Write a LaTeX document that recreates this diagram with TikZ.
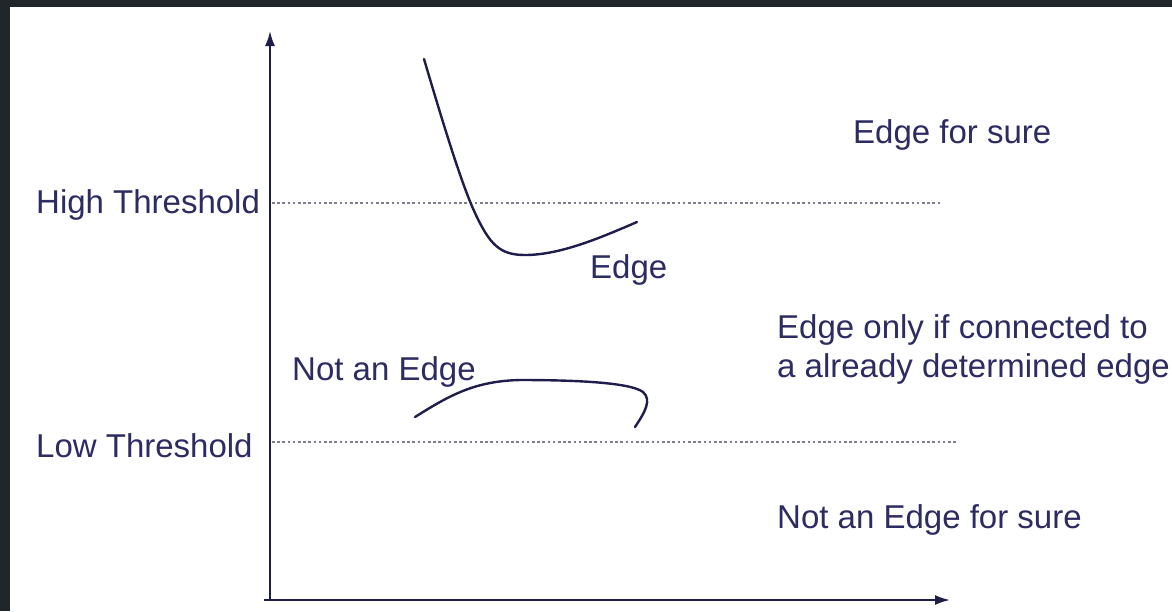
\documentclass[tikz,border=0pt]{standalone}
\usepackage{fontspec}
\setmainfont{Liberation Sans}
\usetikzlibrary{arrows.meta}
\definecolor{ink}{HTML}{2C2B62}
\definecolor{axisc}{HTML}{1E1D4C}
\definecolor{dotc}{HTML}{7E7E90}
\definecolor{frame}{HTML}{202629}
\tikzset{
  lbl/.style={anchor=base west, inner sep=0pt, text=ink, font=\fontsize{33}{32}\selectfont},
  axisline/.style={draw=axisc, line width=2pt, -{Latex[length=15pt,width=10pt]}},
  level/.style={draw=dotc, line width=1.5pt, dash pattern=on 2.6pt off 2.6pt},
  profile/.style={draw=axisc, line width=2.4pt, line cap=round}
}
\begin{document}
\begin{tikzpicture}[x=1pt,y=-1pt]
  \useasboundingbox (0,0) rectangle (1172,611);
  \fill[white] (0,0) rectangle (1172,611);
  % dark window edge along the top and left
  \fill[frame] (0,0) rectangle (1172,7);
  \fill[frame] (0,0) rectangle (10,611);

  % axes
  \coordinate (O) at (270,600);
  \coordinate (ytip) at (270,31);
  \coordinate (xtip) at (950,600);
  \coordinate (xstart) at (264,600);
  \draw[axisline] (O) -- (ytip);
  \draw[axisline] (xstart) -- (xtip);

  % threshold levels
  \coordinate (hiL) at (272,203);
  \coordinate (hiR) at (940,203);
  \coordinate (loL) at (272,442);
  \coordinate (loR) at (957,442);
  \draw[level] (hiL) -- (hiR);
  \draw[level] (loL) -- (loR);

  % labels
  \node[lbl] (high) at (36,213) {High Threshold};
  \node[lbl] (low) at (36,457) {Low Threshold};
  \node[lbl] (sure) at (853,143) {Edge for sure};
  \node[lbl] (edge) at (590,278) {Edge};
  \node[lbl] (notedge) at (292,380) {Not an Edge};
  \node[lbl] (weak1) at (777,338) {Edge only if connected to};
  \node[lbl] (weak2) at (777,377) {a already determined edge};
  \node[lbl] (notsure) at (777,528) {Not an Edge for sure};

  % gradient profile that crosses the high threshold
  \coordinate (e1) at (424,59);
  \coordinate (e2) at (637,222);
  \draw[profile] (e1) .. controls (445,130) and (462,185) .. (475,213)
    .. controls (490,245) and (500,255) .. (525,255)
    .. controls (560,255) and (600,238) .. (e2);

  % profile lying between the thresholds
  \coordinate (n1) at (415,417);
  \coordinate (n2) at (635,427);
  \draw[profile] (n1) .. controls (450,395) and (475,381) .. (520,380)
    .. controls (570,380) and (630,382) .. (643,392)
    .. controls (652,400) and (645,412) .. (n2);
\end{tikzpicture}
\end{document}
